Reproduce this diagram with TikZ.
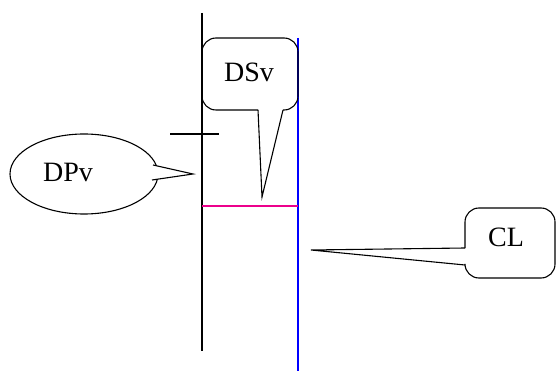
\documentclass[tikz,border=0pt]{standalone}
\usepackage{fontspec}
\setmainfont{Liberation Serif}
\usetikzlibrary{shapes.geometric}
\begin{document}
\begin{tikzpicture}[x=1pt,y=-1pt,
  ln/.style={line width=1.1pt},
  lbl/.style={font=\fontsize{28}{30}\selectfont, inner sep=0pt}]
\useasboundingbox (0,0) rectangle (556,371);
% vertical lines
\draw[ln] (202,13) -- (202,351);
\draw[line width=1.1pt, blue] (298,38) -- (298,371);
\draw[line width=1.1pt, magenta] (202,206) -- (298,206);
\draw[ln] (170,134) -- (219,134);
% DSv callout
\draw[ln, rounded corners=14] (283,110) -- (298,110) -- (298,38) -- (202,38) -- (202,110) -- (258,110);
\draw[ln, line join=miter] (258,110) -- (262,197) -- (283,110);
\node[lbl] (dsv) at (249,72) {DSv};
% DPv callout
\draw[ln] (84,174) ellipse [x radius=74, y radius=40];
\fill[white] (152.5,165) -- (193,174) -- (152,180) -- cycle;
\draw[ln] (153,165) -- (193,174) -- (152,180);
\node[lbl] (dpv) at (68,172) {DPv};
% CL callout
\draw[ln, rounded corners=14] (465,248) -- (465,208) -- (555,208) -- (555,278) -- (465,278) -- (465,265);
\draw[ln] (465,248) -- (311,250) -- (465,265);
\node[lbl] (cl) at (506,237) {CL};
\end{tikzpicture}
\end{document}
